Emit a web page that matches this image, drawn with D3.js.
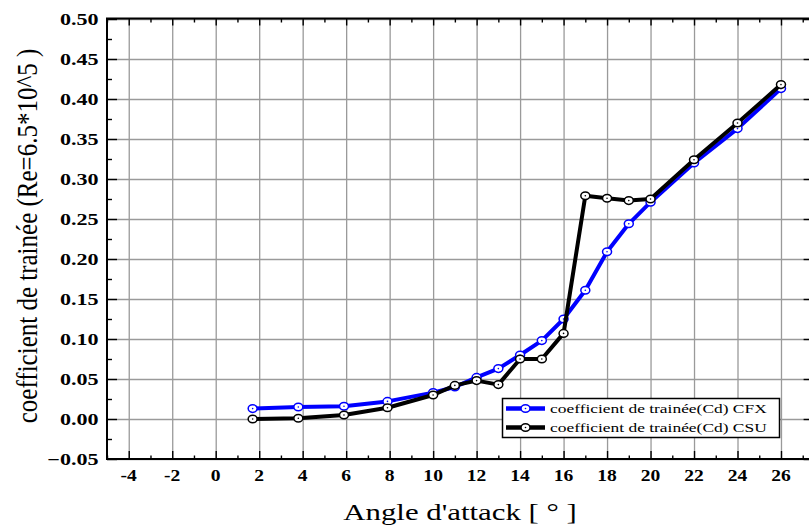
<!DOCTYPE html>
<html>
<head>
<meta charset="utf-8">
<script src="https://cdn.jsdelivr.net/npm/d3@7"></script>
<style>
  body { margin: 0; background: #fff; }
  svg { display: block; font-family: "Liberation Serif", "Times New Roman", serif; }
  .grid line { stroke: #9a9a9a; stroke-width: 1.3; }
  .grid path { display: none; }
  .ax path { display: none; }
  .ax line { stroke: #000; stroke-width: 1.4; }
</style>
</head>
<body>
<svg class="chartsvg" width="809" height="530"></svg>
<script>
// data
var angles = [1.7, 3.8, 5.9, 7.9, 10, 11, 12, 13, 14, 15, 16, 17, 18, 19, 20, 22, 24, 26];
var cdCFX = [0.013, 0.015, 0.016, 0.022, 0.033, 0.040, 0.052, 0.063, 0.080, 0.098, 0.125, 0.161, 0.209, 0.244, 0.271, 0.320, 0.363, 0.413];
var cdCSU = [0.000, 0.001, 0.005, 0.014, 0.030, 0.042, 0.048, 0.043, 0.075, 0.075, 0.107, 0.279, 0.276, 0.273, 0.275, 0.324, 0.370, 0.418];
var xTicks = [-4, -2, 0, 2, 4, 6, 8, 10, 12, 14, 16, 18, 20, 22, 24, 26];
var xMinor = [-5, -3, -1, 1, 3, 5, 7, 9, 11, 13, 15, 17, 19, 21, 23, 25, 27];
var yTicks = [-0.05, 0, 0.05, 0.10, 0.15, 0.20, 0.25, 0.30, 0.35, 0.40, 0.45, 0.50];
var yMinor = [-0.025, 0.025, 0.075, 0.125, 0.175, 0.225, 0.275, 0.325, 0.375, 0.425, 0.475];
var legendLabels = ["coefficient de trainée(Cd) CFX", "coefficient de trainée(Cd) CSU"];
var seriesColors = ["#0000ff", "#000000"];

var pLeft = 107, pTop = 18.5, pRight = 813.6, pBottom = 459;
var x = d3.scaleLinear().domain([-5, 27.5]).range([pLeft, pRight]);
var y = d3.scaleLinear().domain([-0.05, 0.5]).range([pBottom, pTop + 0.5]);

var svg = d3.select(".chartsvg");

// stretched text helper (the original is wider than tall)
function stext(g, tx, ty, sx, str, size, weight, anchor, rot)
{
	var t = g.append("g")
		.attr("transform", "translate(" + tx + "," + ty + ") scale(" + sx + ",1)" + (rot ? " rotate(" + rot + ")" : ""))
		.append("text")
		.attr("text-anchor", anchor)
		.style("font-size", size + "px")
		.style("font-weight", weight)
		.text(str);
	return t;
}

// grid
svg.append("g")
	.attr("class", "grid")
	.attr("transform", "translate(0," + pBottom + ")")
	.call(d3.axisBottom(x).tickValues(xTicks.concat([28])).tickSize(-(pBottom - pTop)).tickFormat(""));
svg.append("g")
	.attr("class", "grid")
	.attr("transform", "translate(" + pLeft + ",0)")
	.call(d3.axisLeft(y).tickValues(yTicks).tickSize(-(pRight - pLeft)).tickFormat(""));

// ticks, all pointing inwards
svg.append("g").attr("class", "ax")
	.attr("transform", "translate(0," + pBottom + ")")
	.call(d3.axisBottom(x).tickValues(xTicks).tickSize(-8).tickFormat(""));
svg.append("g").attr("class", "ax")
	.attr("transform", "translate(0," + pBottom + ")")
	.call(d3.axisBottom(x).tickValues(xMinor).tickSize(-3.5).tickFormat(""));
svg.append("g").attr("class", "ax")
	.attr("transform", "translate(0," + pTop + ")")
	.call(d3.axisTop(x).tickValues(xTicks).tickSize(-7).tickFormat(""));
svg.append("g").attr("class", "ax")
	.attr("transform", "translate(0," + pTop + ")")
	.call(d3.axisTop(x).tickValues(xMinor).tickSize(-4).tickFormat(""));
svg.append("g").attr("class", "ax")
	.attr("transform", "translate(" + pLeft + ",0)")
	.call(d3.axisLeft(y).tickValues(yTicks).tickSize(-10).tickFormat(""));
svg.append("g").attr("class", "ax")
	.attr("transform", "translate(" + pLeft + ",0)")
	.call(d3.axisLeft(y).tickValues(yMinor).tickSize(-5).tickFormat(""));
svg.append("g").attr("class", "ax")
	.attr("transform", "translate(" + pRight + ",0)")
	.call(d3.axisRight(y).tickValues(yTicks).tickSize(-10).tickFormat(""));

// frame
svg.append("rect")
	.attr("x", pLeft).attr("y", pTop)
	.attr("width", pRight - pLeft).attr("height", pBottom - pTop)
	.attr("fill", "none").attr("stroke", "#000").attr("stroke-width", 2);

// tick labels
var labels = svg.append("g").attr("class", "labels");
xTicks.forEach(function(v) {
	stext(labels, x(v), 481, 1.15, v, 17, "bold", "middle");
});
yTicks.forEach(function(v) {
	stext(labels, 98.5, y(v) + 5.5, 1.38, d3.format(".2f")(v), 16, "bold", "end");
});

// axis titles
stext(svg, 460, 520, 1.34, "Angle d'attack [ ° ]", 23, "normal", "middle");
stext(svg, 37, 236, 1.2, "coefficient de trainée (Re=6.5*10^5 )", 25, "normal", "middle", -90);

// series
var series = [cdCFX, cdCSU];
var line = d3.line()
	.x(function(d) { return x(d[0]); })
	.y(function(d) { return y(d[1]); });

function addmarkers(g, pts, color)
{
	g.selectAll("ellipse.mk")
		.data(pts)
		.enter().append("ellipse")
		.attr("class", "mk")
		.attr("cx", function(d) { return x(d[0]); })
		.attr("cy", function(d) { return y(d[1]); })
		.attr("rx", 4.5).attr("ry", 3.8)
		.attr("fill", "#fff")
		.attr("stroke", color)
		.attr("stroke-width", 1.5);
	g.selectAll("circle.dot")
		.data(pts)
		.enter().append("circle")
		.attr("class", "dot")
		.attr("cx", function(d) { return x(d[0]); })
		.attr("cy", function(d) { return y(d[1]); })
		.attr("r", 0.8)
		.attr("fill", color);
}

series.forEach(function(vals, i) {
	var pts = angles.map(function(a, k) { return [a, vals[k]]; });
	var g = svg.append("g").attr("class", "series");
	g.append("path")
		.datum(pts)
		.attr("d", line)
		.attr("fill", "none")
		.attr("stroke", seriesColors[i])
		.attr("stroke-width", 4)
		.attr("stroke-linejoin", "round");
	addmarkers(g, pts, seriesColors[i]);
});

// legend
var legendgroup = svg.append("g").attr("class", "legendgroup");
legendgroup.append("rect")
	.attr("x", 502.5).attr("y", 398.5)
	.attr("width", 277).attr("height", 39)
	.attr("fill", "#fff")
	.attr("stroke", "#000")
	.attr("stroke-width", 1.5);
legendLabels.forEach(function(lab, i) {
	var ly = 408.5 + i * 19;
	legendgroup.append("line")
		.attr("x1", 506).attr("x2", 545)
		.attr("y1", ly).attr("y2", ly)
		.attr("stroke", seriesColors[i])
		.attr("stroke-width", 4.5);
	legendgroup.append("ellipse")
		.attr("cx", 525.5).attr("cy", ly)
		.attr("rx", 4.5).attr("ry", 3.8)
		.attr("fill", "#fff")
		.attr("stroke", seriesColors[i])
		.attr("stroke-width", 1.5);
	legendgroup.append("circle")
		.attr("cx", 525.5).attr("cy", ly)
		.attr("r", 0.8)
		.attr("fill", seriesColors[i]);
	stext(legendgroup, 550, ly + 4.5, 1.34, lab, 13, "normal", "start");
});
</script>
</body>
</html>
